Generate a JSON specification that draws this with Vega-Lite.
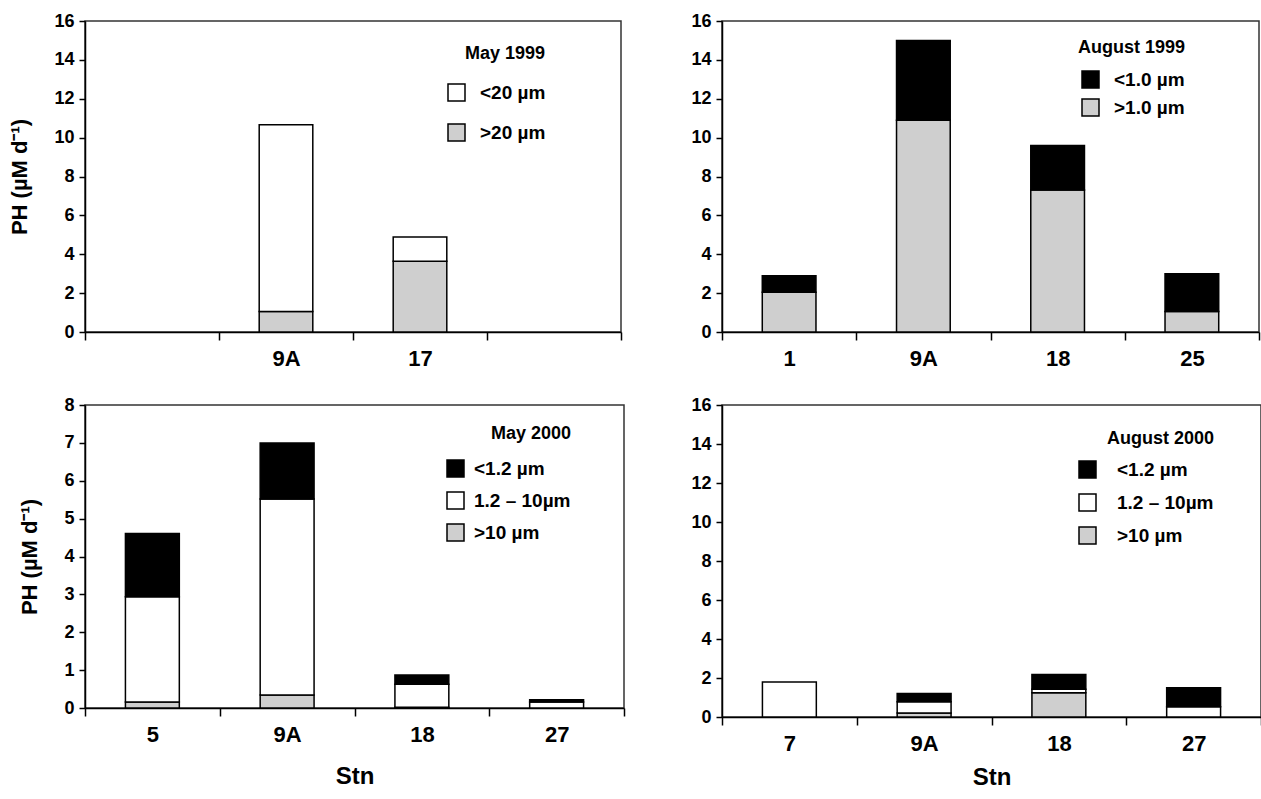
{
  "$schema": "https://vega.github.io/schema/vega-lite/v6.json",
  "padding": {"left": 8, "top": 11, "right": 0, "bottom": 0},
  "columns": 2,
  "spacing": {"column": 64, "row": 25},
  "align": "each",
  "resolve": {"scale": {"x": "independent", "y": "independent", "color": "independent"}, "legend": {"color": "independent"}},
  "config": {
    "font": "Liberation Sans",
    "background": "white",
    "view": {"stroke": "#333333", "strokeWidth": 1.5},
    "axis": {"labelFont": "Liberation Sans", "titleFont": "Liberation Sans", "labelFontWeight": "bold", "titleFontWeight": "bold", "labelColor": "#000000", "titleColor": "#000000", "domainColor": "#000000", "domainWidth": 1.5, "tickColor": "#000000", "tickWidth": 1.5, "grid": false},
    "axisX": {"labelAngle": 0, "labelFontSize": 22, "tickSize": 8, "tickBand": "extent", "labelPadding": 8, "titleFontSize": 24, "titlePadding": 18},
    "axisY": {"labelFontSize": 18, "tickSize": 6, "labelPadding": 5, "titleFontSize": 22, "titlePadding": 22},
    "legend": {"titleFont": "Liberation Sans", "labelFont": "Liberation Sans", "titleFontSize": 18, "titleFontWeight": "bold", "labelFontSize": 19, "labelFontWeight": "bold", "titleColor": "#000000", "labelColor": "#000000", "symbolType": "square", "symbolSize": 289, "symbolStrokeColor": "#000000", "symbolStrokeWidth": 1.5, "symbolOpacity": 1, "padding": 0, "titleAnchor": "end"}
  },
  "datasets": {
    "may1999": [
      {"stn": "9A", "size": ">20 µm", "ph": 1.06},
      {"stn": "9A", "size": "<20 µm", "ph": 9.6},
      {"stn": "17", "size": ">20 µm", "ph": 3.64},
      {"stn": "17", "size": "<20 µm", "ph": 1.25}
    ],
    "aug1999": [
      {"stn": "1", "size": ">1.0 µm", "ph": 2.05},
      {"stn": "1", "size": "<1.0 µm", "ph": 0.85},
      {"stn": "9A", "size": ">1.0 µm", "ph": 10.9},
      {"stn": "9A", "size": "<1.0 µm", "ph": 4.1},
      {"stn": "18", "size": ">1.0 µm", "ph": 7.3},
      {"stn": "18", "size": "<1.0 µm", "ph": 2.3},
      {"stn": "25", "size": ">1.0 µm", "ph": 1.05},
      {"stn": "25", "size": "<1.0 µm", "ph": 1.95}
    ],
    "may2000": [
      {"stn": "5", "size": ">10 µm", "ph": 0.16},
      {"stn": "5", "size": "1.2 – 10µm", "ph": 2.78},
      {"stn": "5", "size": "<1.2 µm", "ph": 1.67},
      {"stn": "9A", "size": ">10 µm", "ph": 0.34},
      {"stn": "9A", "size": "1.2 – 10µm", "ph": 5.18},
      {"stn": "9A", "size": "<1.2 µm", "ph": 1.48},
      {"stn": "18", "size": ">10 µm", "ph": 0.02},
      {"stn": "18", "size": "1.2 – 10µm", "ph": 0.61},
      {"stn": "18", "size": "<1.2 µm", "ph": 0.24},
      {"stn": "27", "size": "1.2 – 10µm", "ph": 0.16},
      {"stn": "27", "size": "<1.2 µm", "ph": 0.06}
    ],
    "aug2000": [
      {"stn": "7", "size": "1.2 – 10µm", "ph": 1.8},
      {"stn": "9A", "size": ">10 µm", "ph": 0.2},
      {"stn": "9A", "size": "1.2 – 10µm", "ph": 0.58},
      {"stn": "9A", "size": "<1.2 µm", "ph": 0.42},
      {"stn": "18", "size": ">10 µm", "ph": 1.25},
      {"stn": "18", "size": "1.2 – 10µm", "ph": 0.17},
      {"stn": "18", "size": "<1.2 µm", "ph": 0.76},
      {"stn": "27", "size": "1.2 – 10µm", "ph": 0.52},
      {"stn": "27", "size": "<1.2 µm", "ph": 0.98}
    ]
  },
  "concat": [
    {
      "width": 536, "height": 311,
      "data": {"name": "may1999"},
      "transform": [{"calculate": "indexof(['>20 µm', '<20 µm'], datum.size)", "as": "stackorder"}],
      "mark": {"type": "bar", "stroke": "#000000", "strokeWidth": 1.5, "width": {"band": 0.4}},
      "encoding": {
        "x": {"field": "stn", "type": "nominal", "scale": {"domain": [" ", "9A", "17", "  "], "paddingInner": 0, "paddingOuter": 0}, "axis": {"title": null}},
        "y": {"field": "ph", "type": "quantitative", "stack": "zero", "scale": {"domain": [0, 16], "nice": false}, "axis": {"values": [0, 2, 4, 6, 8, 10, 12, 14, 16], "title": "PH (µM d⁻¹)"}},
        "order": {"field": "stackorder", "type": "quantitative", "sort": "ascending"},
        "color": {"field": "size", "type": "nominal", "sort": ["<20 µm", ">20 µm"], "scale": {"domain": ["<20 µm", ">20 µm"], "range": ["#ffffff", "#cfcfcf"]}, "legend": {"title": "May 1999", "orient": "none", "legendX": 362, "legendY": 24, "rowPadding": 17, "titlePadding": 20, "labelOffset": 14}}
      }
    },
    {
      "width": 537, "height": 311,
      "data": {"name": "aug1999"},
      "transform": [{"calculate": "indexof(['>1.0 µm', '<1.0 µm'], datum.size)", "as": "stackorder"}],
      "mark": {"type": "bar", "stroke": "#000000", "strokeWidth": 1.5, "width": {"band": 0.4}},
      "encoding": {
        "x": {"field": "stn", "type": "nominal", "scale": {"domain": ["1", "9A", "18", "25"], "paddingInner": 0, "paddingOuter": 0}, "axis": {"title": null}},
        "y": {"field": "ph", "type": "quantitative", "stack": "zero", "scale": {"domain": [0, 16], "nice": false}, "axis": {"values": [0, 2, 4, 6, 8, 10, 12, 14, 16], "title": null}},
        "order": {"field": "stackorder", "type": "quantitative", "sort": "ascending"},
        "color": {"field": "size", "type": "nominal", "sort": ["<1.0 µm", ">1.0 µm"], "scale": {"domain": ["<1.0 µm", ">1.0 µm"], "range": ["#000000", "#cfcfcf"]}, "legend": {"title": "August 1999", "orient": "none", "legendX": 356, "legendY": 18, "rowPadding": 5, "titlePadding": 13, "labelOffset": 14}}
      }
    },
    {
      "width": 539, "height": 303,
      "data": {"name": "may2000"},
      "transform": [{"calculate": "indexof(['>10 µm', '1.2 – 10µm', '<1.2 µm'], datum.size)", "as": "stackorder"}],
      "mark": {"type": "bar", "stroke": "#000000", "strokeWidth": 1.5, "width": {"band": 0.4}},
      "encoding": {
        "x": {"field": "stn", "type": "nominal", "scale": {"domain": ["5", "9A", "18", "27"], "paddingInner": 0, "paddingOuter": 0}, "axis": {"title": "Stn", "titlePadding": 19}},
        "y": {"field": "ph", "type": "quantitative", "stack": "zero", "scale": {"domain": [0, 8], "nice": false}, "axis": {"values": [0, 1, 2, 3, 4, 5, 6, 7, 8], "title": "PH (µM d⁻¹)"}},
        "order": {"field": "stackorder", "type": "quantitative", "sort": "ascending"},
        "color": {"field": "size", "type": "nominal", "sort": ["<1.2 µm", "1.2 – 10µm", ">10 µm"], "scale": {"domain": ["<1.2 µm", "1.2 – 10µm", ">10 µm"], "range": ["#000000", "#ffffff", "#cfcfcf"]}, "legend": {"title": "May 2000", "orient": "none", "legendX": 361, "legendY": 20, "rowPadding": 9, "titlePadding": 16, "labelOffset": 9}}
      }
    },
    {
      "width": 539, "height": 312,
      "data": {"name": "aug2000"},
      "transform": [{"calculate": "indexof(['>10 µm', '1.2 – 10µm', '<1.2 µm'], datum.size)", "as": "stackorder"}],
      "mark": {"type": "bar", "stroke": "#000000", "strokeWidth": 1.5, "width": {"band": 0.4}},
      "encoding": {
        "x": {"field": "stn", "type": "nominal", "scale": {"domain": ["7", "9A", "18", "27"], "paddingInner": 0, "paddingOuter": 0}, "axis": {"title": "Stn", "titlePadding": 11}},
        "y": {"field": "ph", "type": "quantitative", "stack": "zero", "scale": {"domain": [0, 16], "nice": false}, "axis": {"values": [0, 2, 4, 6, 8, 10, 12, 14, 16], "title": null}},
        "order": {"field": "stackorder", "type": "quantitative", "sort": "ascending"},
        "color": {"field": "size", "type": "nominal", "sort": ["<1.2 µm", "1.2 – 10µm", ">10 µm"], "scale": {"domain": ["<1.2 µm", "1.2 – 10µm", ">10 µm"], "range": ["#000000", "#ffffff", "#cfcfcf"]}, "legend": {"title": "August 2000", "orient": "none", "legendX": 356, "legendY": 25, "rowPadding": 10, "titlePadding": 12, "labelOffset": 20}}
      }
    }
  ]
}
